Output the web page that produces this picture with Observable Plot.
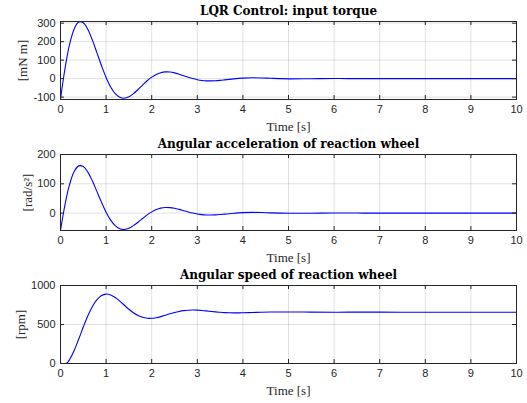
<!DOCTYPE html>
<html>
<head>
<meta charset="utf-8">
<script src="https://cdn.jsdelivr.net/npm/d3@7"></script>
<script src="https://cdn.jsdelivr.net/npm/@observablehq/plot@0.6"></script>
<style>
  html, body { margin: 0; padding: 0; background: #fff; }
  svg { display: block; }
</style>
</head>
<body>
<div id="chart"></div>
<script>
// Time samples [s]
const time = [0,0.05,0.1,0.15,0.2,0.3,0.4,0.5,0.6,0.7,0.8,0.9,1.0,1.1,1.2,1.3,1.4,1.5,1.6,1.7,1.8,1.9,2.0,2.1,2.2,2.3,2.4,2.5,2.6,2.7,2.8,2.9,3.0,3.1,3.2,3.3,3.4,3.5,3.6,3.7,3.8,3.9,4.0,4.2,4.4,4.6,4.8,5.0,5.5,6,6.5,7,7.5,8,8.5,9,9.5,10];
// Input torque [mN m]
const torque = [-112.8,-23.5,57.0,127.2,186.2,269.0,305.9,301.8,265.7,208.0,139.2,69.4,5.9,-45.4,-81.3,-100.9,-106.0,-98.1,-81.3,-59.0,-35.3,-11.7,8.0,22.9,32.2,36.2,35.4,30.9,23.9,15.8,7.6,0.2,-5.7,-9.8,-12.0,-12.4,-11.5,-9.4,-6.7,-3.9,-1.2,1.1,2.8,4.3,3.6,1.8,0.0,-1.2,-0.5,0.3,0.1,0,0,0,0,0,0,0];
// Angular acceleration [rad/s^2]
const accel = [-59.4,-12.4,30.0,67.0,98.1,141.8,161.2,159.0,140.0,109.6,73.4,36.6,3.1,-23.9,-42.8,-53.2,-55.9,-51.7,-42.8,-31.1,-18.6,-6.2,4.2,12.1,17.0,19.1,18.7,16.3,12.6,8.3,4.0,0.1,-3.0,-5.2,-6.3,-6.5,-6.1,-5.0,-3.5,-2.1,-0.6,0.6,1.5,2.3,1.9,0.9,0.0,-0.6,-0.3,0.2,0.1,0,0,0,0,0,0,0];
// Angular speed [rpm]
const speed = [0,0,0,10.8,50.5,166.9,313.6,467.7,611.6,731.5,819.3,871.3,889.9,879.4,846.8,800.6,747.2,695.8,650.7,615.2,592.1,580.0,579.2,587.2,601.3,618.7,636.9,653.7,667.6,677.7,683.5,685.4,683.9,679.9,674.3,668.0,662.0,656.8,652.7,650.1,648.7,648.8,649.8,653.5,657.6,660.4,661.2,660.5,658.8,657.8,658.2,658.1,658,658,658,658,658,658];

const xTicks = [0,1,2,3,4,5,6,7,8,9,10];
const torqueTicks = [-100,0,100,200,300];
const accelTicks = [0,100,200];
const speedTicks = [0,500,1000];

const titles = ["LQR Control: input torque", "Angular acceleration of reaction wheel", "Angular speed of reaction wheel"];
const yLabels = ["[mN m]", "[rad/s\u00B2]", "[rpm]"];
const xLabel = "Time [s]";

const W = 527, ML = 60, MR = 11;
const AX = "#262626";
const SERIF = "'Liberation Serif', 'DejaVu Serif', serif";
const TITLE_SERIF = "'DejaVu Serif', 'Liberation Serif', serif";
const SANS = "'Liberation Sans', Arial, sans-serif";

function panel({title, ylabel, values, yDomain, yTicks, height, mt, mb, ylabelDx}) {
  const data = time.map((t, i) => ({t, v: values[i]}));
  const innerH = height - mt - mb;
  const innerW = W - ML - MR;
  return Plot.plot({
    width: W, height,
    marginLeft: ML, marginRight: MR, marginTop: mt, marginBottom: mb,
    x: {domain: [0, 10]},
    y: {domain: yDomain},
    style: {fontFamily: SANS, background: "#fff", overflow: "visible"},
    marks: [
      Plot.gridX(xTicks, {stroke: "#000", strokeOpacity: 0.12}),
      Plot.gridY(yTicks, {stroke: "#000", strokeOpacity: 0.12}),
      Plot.line(data, {x: "t", y: "v", stroke: "#0000ff", strokeWidth: 1.1, curve: "catmull-rom", clip: true}),
      Plot.tickX(xTicks, {x: d => d, insetTop: innerH - 4, stroke: AX}),
      Plot.tickX(xTicks, {x: d => d, insetBottom: innerH - 4, stroke: AX}),
      Plot.tickY(yTicks, {y: d => d, insetRight: innerW - 4, stroke: AX}),
      Plot.tickY(yTicks, {y: d => d, insetLeft: innerW - 4, stroke: AX}),
      Plot.frame({stroke: AX}),
      Plot.axisX(xTicks, {tickSize: 0, tickPadding: 6, fontSize: 11, color: AX, label: null, fontFamily: SANS}),
      Plot.axisY(yTicks, {tickSize: 0, tickPadding: 5, fontSize: 11, color: AX, label: null, fontFamily: SANS, tickFormat: d => String(d)}),
      Plot.text([title], {text: d => d, frameAnchor: "top", dy: -7, lineAnchor: "bottom", fontFamily: TITLE_SERIF, fontWeight: "bold", fontSize: 12, fill: "#000"}),
      Plot.text([xLabel], {text: d => d, frameAnchor: "bottom", dy: 27, lineAnchor: "middle", fontFamily: SERIF, fontSize: 13, fill: AX}),
      Plot.text([ylabel], {text: d => d, frameAnchor: "left", dx: ylabelDx, rotate: -90, textAnchor: "middle", lineAnchor: "middle", fontFamily: SERIF, fontSize: 13, fill: AX})
    ]
  });
}

const root = document.getElementById("chart");
root.append(panel({title: titles[0], ylabel: yLabels[0], values: torque, yDomain: [-113, 309], yTicks: torqueTicks, height: 132, mt: 21, mb: 33, ylabelDx: -38}));
root.append(panel({title: titles[1], ylabel: yLabels[1], values: accel, yDomain: [-59.4, 200], yTicks: accelTicks, height: 131, mt: 22, mb: 33, ylabelDx: -33}));
root.append(panel({title: titles[2], ylabel: yLabels[2], values: speed, yDomain: [0, 1000], yTicks: speedTicks, height: 140, mt: 22, mb: 40, ylabelDx: -40}));
</script>
</body>
</html>
